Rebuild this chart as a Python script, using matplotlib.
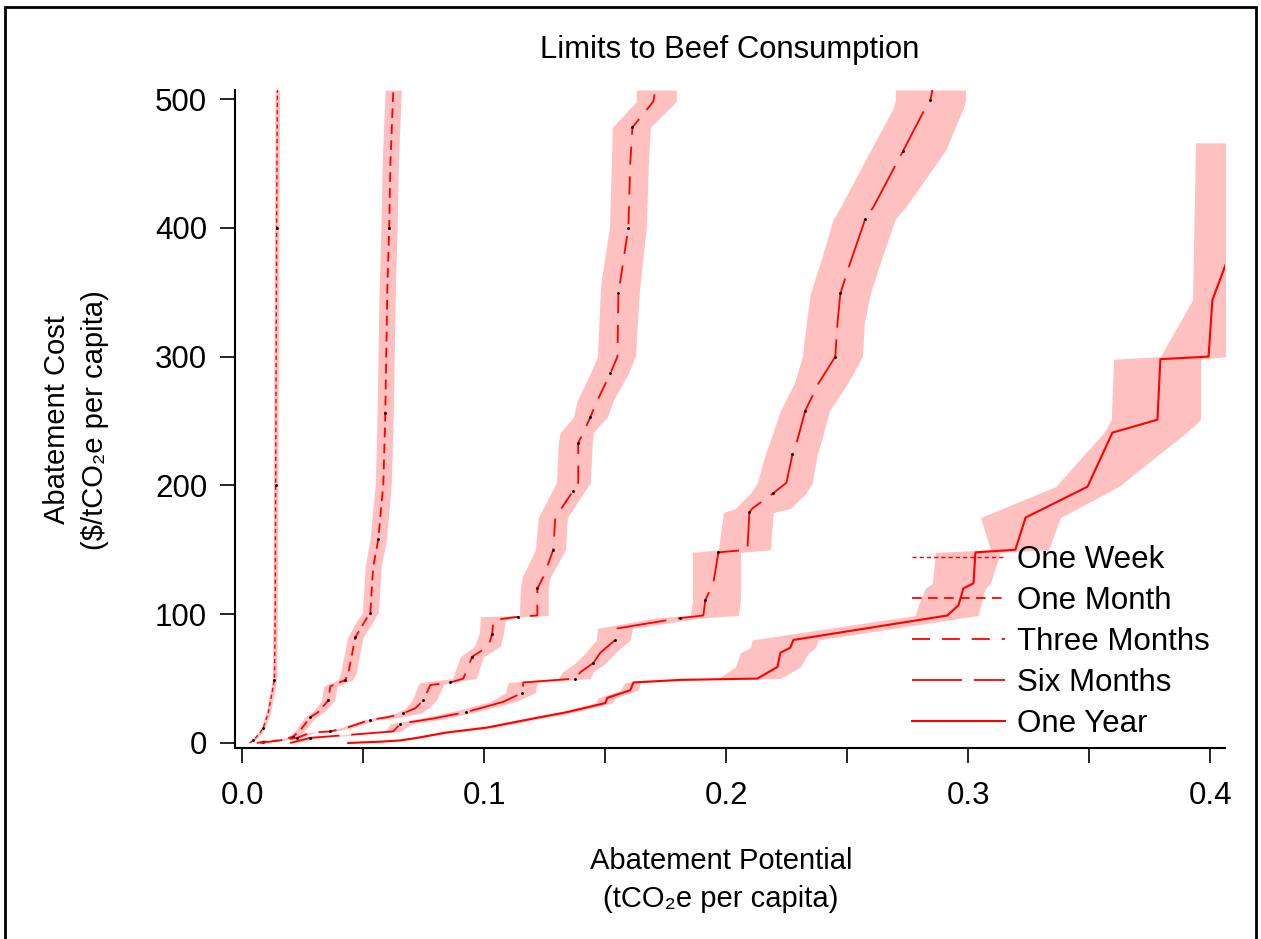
import matplotlib
matplotlib.use("Agg")
import matplotlib.pyplot as plt
from matplotlib.patches import Rectangle
from matplotlib.lines import Line2D

plt.rcParams['font.family'] = ['Liberation Sans', 'DejaVu Sans']
plt.rcParams['lines.scale_dashes'] = False

# ---- data ----
# One Week
week_cost = [0, 2, 8, 12, 23, 49, 100, 200, 300, 400, 507]
week_mid = [0.003, 0.0045, 0.0074, 0.0087, 0.0107, 0.0133, 0.0136, 0.0138, 0.0140, 0.0142, 0.0145]
week_lo = [0.0025, 0.0038, 0.0066, 0.0079, 0.0098, 0.0124, 0.0127, 0.0129, 0.0131, 0.0133, 0.0136]
week_hi = [0.0035, 0.0052, 0.0082, 0.0095, 0.0116, 0.0142, 0.0145, 0.0147, 0.0149, 0.0151, 0.0154]

# One Month
month_cost = [0, 1, 2, 5, 10, 20, 24, 33, 44, 49, 54, 82, 95, 101, 137, 158, 202, 256, 350, 400, 450, 507]
month_mid = [0.006, 0.0087, 0.0157, 0.0211, 0.0240, 0.0281, 0.0314, 0.0355, 0.0364, 0.0426, 0.0438,
             0.0467, 0.0508, 0.0529, 0.0541, 0.0562, 0.0583, 0.0591, 0.0599, 0.0607, 0.0612, 0.0624]
month_lo = [0.005, 0.0075, 0.0140, 0.0192, 0.0220, 0.0258, 0.0290, 0.0328, 0.0336, 0.0396, 0.0406,
            0.0435, 0.0474, 0.0496, 0.0508, 0.0528, 0.0550, 0.0557, 0.0565, 0.0573, 0.0578, 0.0590]
month_hi = [0.007, 0.0099, 0.0174, 0.0230, 0.0260, 0.0304, 0.0338, 0.0382, 0.0392, 0.0456, 0.0470,
            0.0499, 0.0542, 0.0562, 0.0574, 0.0596, 0.0616, 0.0624, 0.0632, 0.0640, 0.0645, 0.0657]

# Three Months
three_cost = [0, 4, 8, 9, 12, 18, 20, 23, 27, 33, 45, 47, 50, 67, 75, 85, 95.5, 98, 99, 120, 129,
              150, 175, 196, 202, 233, 241, 253, 266, 287, 300, 349, 359, 400, 450, 478, 498, 507]
three_mid = [0.0074, 0.0227, 0.0281, 0.0364, 0.0434, 0.0529, 0.0599, 0.0665, 0.0715, 0.0748, 0.0777,
             0.0860, 0.0913, 0.0950, 0.1017, 0.1033, 0.1037, 0.1140, 0.1219, 0.1219, 0.1244,
             0.1285, 0.1293, 0.1368, 0.1388, 0.1388, 0.1409, 0.1438, 0.1467, 0.1521, 0.1550,
             0.1554, 0.1562, 0.1595, 0.1603, 0.1612, 0.1698, 0.1707]
three_lo = [0.0065, 0.0210, 0.0262, 0.0342, 0.0410, 0.0500, 0.0570, 0.0632, 0.0674, 0.0702, 0.0727,
            0.0736, 0.0868, 0.0901, 0.0959, 0.0979, 0.0983, 0.0983, 0.1145, 0.1149, 0.1157,
            0.1211, 0.1223, 0.1281, 0.1298, 0.1306, 0.1314, 0.1368, 0.1384, 0.1438, 0.1467,
            0.1479, 0.1483, 0.1517, 0.1525, 0.1529, 0.1628, 0.1628]
three_hi = [0.0083, 0.0244, 0.0300, 0.0386, 0.0458, 0.0558, 0.0653, 0.0736, 0.0769, 0.0802, 0.0831,
            0.0860, 0.0967, 0.0996, 0.1066, 0.1079, 0.1087, 0.1149, 0.1264, 0.1264, 0.1273,
            0.1335, 0.1343, 0.1417, 0.1438, 0.1446, 0.1450, 0.1508, 0.1533, 0.1595, 0.1624,
            0.1640, 0.1645, 0.1669, 0.1678, 0.1686, 0.1793, 0.1793]

# Six Months
six_cost = [0, 4, 9, 15, 19, 24, 32, 39, 47, 50, 55, 62, 70, 80, 89, 97, 99, 111, 124, 148, 150,
            179, 182, 194, 202, 224, 235, 258, 279, 300, 326, 349, 373, 407, 416, 460, 493, 499, 507]
six_mid = [0.0198, 0.0281, 0.0624, 0.0653, 0.0789, 0.0926, 0.1079, 0.1157, 0.1161, 0.1376, 0.1397,
           0.1450, 0.1479, 0.1541, 0.1550, 0.1810, 0.1905, 0.1913, 0.1946, 0.1967, 0.2087,
           0.2095, 0.2107, 0.2194, 0.2248, 0.2273, 0.2293, 0.2326, 0.2380, 0.2450, 0.2459,
           0.2471, 0.2512, 0.2574, 0.2607, 0.2731, 0.2822, 0.2843, 0.2851]
six_lo = [0.0178, 0.0248, 0.0591, 0.0612, 0.0736, 0.0860, 0.1025, 0.1087, 0.1099, 0.1306, 0.1322,
          0.1376, 0.1417, 0.1463, 0.1467, 0.1707, 0.1851, 0.1860, 0.1860, 0.1860, 0.1967,
          0.1988, 0.2037, 0.2100, 0.2128, 0.2160, 0.2182, 0.2223, 0.2280, 0.2314, 0.2330,
          0.2347, 0.2388, 0.2442, 0.2471, 0.2595, 0.2690, 0.2698, 0.2698]
six_hi = [0.0219, 0.0314, 0.0653, 0.0702, 0.0839, 0.0963, 0.1128, 0.1211, 0.1219, 0.1438, 0.1450,
          0.1500, 0.1541, 0.1603, 0.1612, 0.1893, 0.2050, 0.2058, 0.2058, 0.2058, 0.2182,
          0.2194, 0.2264, 0.2330, 0.2355, 0.2375, 0.2393, 0.2426, 0.2500, 0.2562, 0.2570,
          0.2595, 0.2636, 0.2698, 0.2740, 0.2905, 0.2979, 0.2988, 0.2988]

# One Year
year_cost = [0, 1, 2, 4, 8, 12, 19, 24, 31, 35, 41, 47, 49, 50, 59, 70, 74, 80, 99, 107, 120, 124,
             148, 150, 175, 199, 241, 251, 298, 300, 344, 466]
year_mid = [0.0438, 0.0570, 0.0653, 0.0723, 0.0839, 0.1012, 0.1202, 0.1343, 0.1500, 0.1508, 0.1603,
            0.1616, 0.1810, 0.2128, 0.2211, 0.2223, 0.2264, 0.2277, 0.2913, 0.2959, 0.2979,
            0.3021, 0.3029, 0.3194, 0.3236, 0.3492, 0.3595, 0.3781, 0.3793, 0.3992, 0.4008, 0.4250]
year_lo = [0.0430, 0.0562, 0.0640, 0.0707, 0.0818, 0.0983, 0.1169, 0.1314, 0.1459, 0.1471, 0.1562,
           0.1583, 0.1810, 0.1967, 0.2037, 0.2058, 0.2099, 0.2107, 0.2781, 0.2793, 0.2822,
           0.2851, 0.2864, 0.3091, 0.3050, 0.3360, 0.3560, 0.3590, 0.3600, 0.3793, 0.3926, 0.3938]
year_hi = [0.0446, 0.0583, 0.0669, 0.0744, 0.0860, 0.1045, 0.1231, 0.1376, 0.1529, 0.1541, 0.1636,
           0.1645, 0.1893, 0.2223, 0.2306, 0.2339, 0.2368, 0.2380, 0.3041, 0.3050, 0.3070,
           0.3091, 0.3132, 0.3331, 0.3380, 0.3620, 0.3900, 0.3959, 0.3959, 0.4062, 0.4207, 0.4207]

labels = ["One Week", "One Month", "Three Months", "Six Months", "One Year"]
costs = [week_cost, month_cost, three_cost, six_cost, year_cost]
mids = [week_mid, month_mid, three_mid, six_mid, year_mid]
los = [week_lo, month_lo, three_lo, six_lo, year_lo]
his = [week_hi, month_hi, three_hi, six_hi, year_hi]

# line styles (dash patterns in points)
styles = [(0, (3.0, 2.2)), (0, (7.0, 4.5)), (0, (13.0, 8.5)), (0, (36.0, 8.5)), '-']
widths = [1.0, 1.3, 1.3, 1.3, 1.5]
red = '#ff0000'
band = '#ffc0c0'

fig = plt.figure(figsize=(12.61, 9.39), dpi=100)
ax = fig.add_axes([235 / 1261, 1 - 748 / 939, 990 / 1261, 658 / 939])

# bands first, then the lines on top
for c, lo, hi in zip(costs, los, his):
    ax.fill_betweenx(c, lo, hi, color=band, lw=0)
for i, (c, m, ls, lw) in enumerate(zip(costs, mids, styles, widths)):
    ax.plot(m, c, color=red, ls=ls, lw=lw)
    # the little black dots sitting on the dashed curves
    if i < 4:
        ax.plot(m[1:-1:2], c[1:-1:2], ls='none', marker='.', ms=2.2, color='black')

ax.set_xlim(-0.003, 0.406)
ax.set_ylim(-3.9, 507)

ax.set_yticks([0, 100, 200, 300, 400, 500])
xt = [0.0, 0.05, 0.1, 0.15, 0.2, 0.25, 0.3, 0.35, 0.4]
ax.set_xticks(xt)
ax.set_xticklabels(["0.0", "", "0.1", "", "0.2", "", "0.3", "", "0.4"])
ax.tick_params(axis='both', labelsize=22.5, length=11, width=1.2, direction='out')
ax.tick_params(axis='x', pad=13)
ax.tick_params(axis='y', pad=9)

ax.spines['top'].set_visible(False)
ax.spines['right'].set_visible(False)
ax.spines['left'].set_linewidth(1.5)
ax.spines['bottom'].set_linewidth(1.5)

# legend
handles = [Line2D([], [], color=red, ls=ls, lw=lw) for ls, lw in zip(styles, widths)]
fig.legend(handles, labels, loc='center left', bbox_to_anchor=(912 / 1261, 1 - 642 / 939),
           frameon=False, fontsize=22.5, handlelength=2.97, handletextpad=0.4,
           labelspacing=0.35, borderpad=0, borderaxespad=0)

fig.text(730 / 1261, 1 - 50 / 939, "Limits to Beef Consumption", ha='center', va='center', fontsize=22.3)
fig.text(721 / 1261, 1 - 880 / 939, "Abatement Potential\n(tCO\u2082e per capita)",
         ha='center', va='center', fontsize=21, linespacing=1.45)
fig.text(76 / 1261, 1 - 420 / 939, "Abatement Cost\n($/tCO\u2082e per capita)",
         ha='center', va='center', fontsize=21, linespacing=1.45, rotation=90)

# frame round the whole figure
fig.patches.append(Rectangle((5 / 1261, -0.02), 1251 / 1261, 1 - 7 / 939 + 0.02,
                             transform=fig.transFigure, fill=False, lw=2, ec='black'))

fig.savefig("out.png", dpi=100)
